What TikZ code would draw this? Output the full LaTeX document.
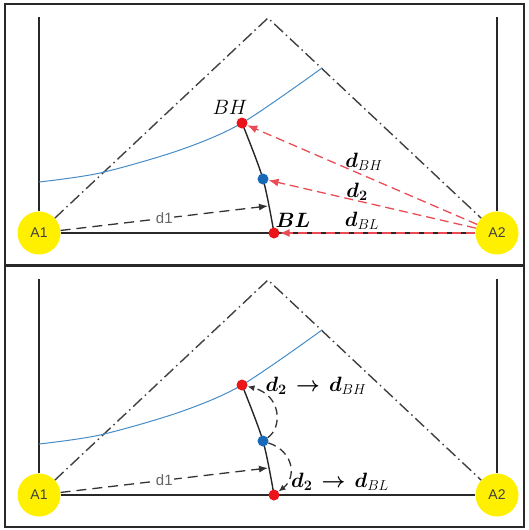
\documentclass[tikz,border=0pt]{standalone}
\usepackage{fontspec}
\setsansfont{Liberation Sans}
\usepackage{amsmath,bm}
\usetikzlibrary{arrows.meta, backgrounds}
\definecolor{anchorfill}{RGB}{255,240,0}
\definecolor{isoblue}{RGB}{70,140,200}
\definecolor{redpt}{RGB}{235,20,25}
\definecolor{bluept}{RGB}{25,105,185}
\definecolor{rayred}{RGB}{235,75,85}
\definecolor{framegray}{RGB}{40,40,40}

\begin{document}
\begin{tikzpicture}[x=1pt, y=-1pt,
  station/.style={circle, fill=anchorfill, minimum size=43pt, inner sep=0pt,
                  font=\sffamily\fontsize{14}{14}\selectfont, text=black!75},
  spot/.style={circle, minimum size=11pt, inner sep=0pt},
  panel/.style={line width=2.5pt, framegray},
  wall/.style={line width=2.5pt, framegray},
  base/.style={line width=2pt, framegray},
  hull/.style={line width=1.4pt, black!75, dash pattern=on 12pt off 4pt on 1.5pt off 4pt},
  isoline/.style={isoblue, line width=1pt},
  track/.style={black!85, line width=1.4pt},
  guess/.style={black!80, line width=1.3pt, dash pattern=on 10pt off 6pt,
                -{Latex[length=9pt,width=7pt]}},
  ray/.style={rayred, line width=1.3pt, dash pattern=on 9pt off 5pt,
              -{Latex[length=10pt,width=8pt]}},
  refine/.style={black!80, line width=1.3pt, dash pattern=on 8pt off 5pt,
                 -{Latex[length=7pt,width=6pt]}},
  dlabel/.style={fill=white, inner sep=1pt, text=black!60,
                 font=\sffamily\fontsize{15}{15}\selectfont},
  lbl/.style={font=\fontsize{22}{24}\selectfont, inner sep=1pt},
]
  \useasboundingbox (0,0) rectangle (528,530);

  % both panels share the same room layout
  \foreach \p/\oy in {t/0, b/262}{
    \begin{scope}[shift={(0,\oy)}]
      \node[station] (A1\p) at (39,233) {A1};
      \node[station] (A2\p) at (497,233) {A2};
      \coordinate (apex\p) at (268,18);
      \node[spot, fill=redpt] (BH\p) at (242,123) {};
      \node[spot, fill=bluept] (M\p) at (263,179) {};
      \node[spot, fill=redpt] (BL\p) at (274,233) {};
      \coordinate (hit\p) at (268,206);
      \begin{scope}[on background layer]
        \draw[panel] (5,4) rectangle (524,265);
        \draw[wall] (A1\p.north) -- (39,17);
        \draw[wall] (A2\p.north) -- (497,17);
        \draw[base] (A1\p) -- (A2\p);
        \draw[hull] (A1\p) -- (apex\p) -- (A2\p);
        \draw[isoline] plot[smooth] coordinates {(39,182) (100,173) (180,150) (242,123) (322,68)};
        \draw[track] plot[smooth] coordinates {(BH\p.center) (M\p.center) (BL\p.center)};
      \end{scope}
      \draw[guess] (A1\p) -- node[dlabel] {d1} (hit\p);
    \end{scope}
  }

  % upper panel: ranges from A2
  \draw[ray] (A2t) -- (BHt);
  \draw[ray] (A2t) -- (Mt);
  \draw[ray] (A2t) -- (BLt);
  \node[lbl] (lBH) at (230,107) {$BH$};
  \node[lbl] (lBL) at (293,220) {$\bm{BL}$};
  \node[lbl] (ldBH) at (364,162) {$\bm{d}_{BH}$};
  \node[lbl] (ld2) at (357,192) {$\bm{d}_{\bm 2}$};
  \node[lbl] (ldBL) at (362,221) {$\bm{d}_{BL}$};

  % lower panel: the middle point moves to both ends
  \begin{scope}[shift={(0,262)}]
    \draw[refine] (Mb) .. controls (283,165) and (281,133) .. (BHb);
    \draw[refine] (Mb) .. controls (295,190) and (296,216) .. (BLb);
    \node[lbl] (lup) at (316,124) {$\bm{d}_{\bm 2}\,\bm{\rightarrow}\,\bm{d}_{BH}$};
    \node[lbl] (llow) at (340,220) {$\bm{d}_{\bm 2}\,\bm{\rightarrow}\,\bm{d}_{BL}$};
  \end{scope}
\end{tikzpicture}
\end{document}
